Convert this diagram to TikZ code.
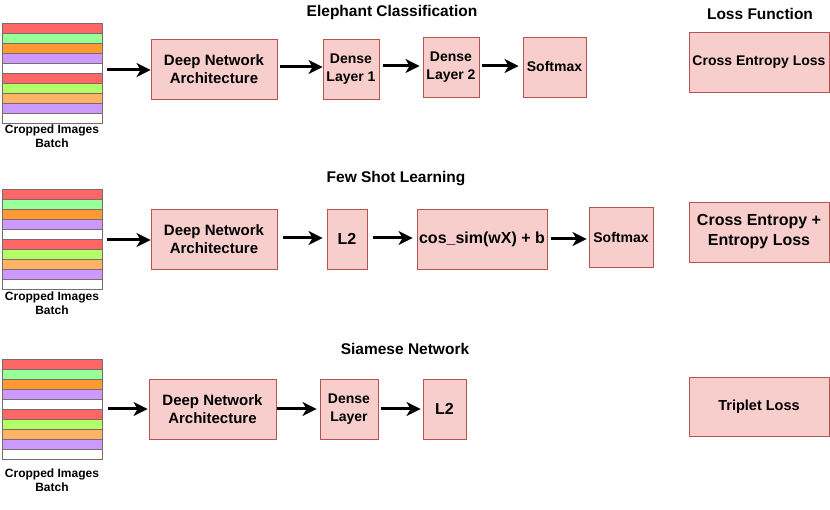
\documentclass[tikz,border=0pt]{standalone}
\usepackage{fontspec}
\setmainfont{Liberation Sans}
\usetikzlibrary{arrows.meta,positioning}
\definecolor{boxfill}{HTML}{F8CECC}
\definecolor{boxdraw}{HTML}{B85450}
\definecolor{sred}{HTML}{FF6666}
\definecolor{sgreen}{HTML}{99FF99}
\definecolor{sorange}{HTML}{FF9933}
\definecolor{spurple}{HTML}{CC99FF}
\definecolor{slime}{HTML}{B3FF66}
\definecolor{slorange}{HTML}{FFB366}
\definecolor{sedge}{HTML}{7A6A6A}
\tikzset{
  blk/.style={draw=boxdraw, fill=boxfill, line width=0.9pt, inner sep=0pt, align=center,
    font=\bfseries\fontsize{14}{18}\selectfont},
  ttl/.style={font=\bfseries\fontsize{15.5}{17}\selectfont, inner sep=0pt},
  captxt/.style={font=\bfseries\fontsize{12}{14}\selectfont, align=center, inner sep=0pt},
  arr/.style={line width=3pt, -{Stealth[length=14pt,width=14pt,inset=4pt]}},
  strip/.style={draw=sedge, line width=0.8pt},
  stackbox/.style={minimum width=100pt, minimum height=100pt, inner sep=0pt, anchor=north west}
}
\newcommand{\imgstack}[2]{%
  \fill[sred]    (2,#2)          rectangle (102,#2+10);
  \fill[sgreen]  (2,#2+10)       rectangle (102,#2+20);
  \fill[sorange] (2,#2+20)       rectangle (102,#2+30);
  \fill[spurple] (2,#2+30)       rectangle (102,#2+40);
  \fill[white]   (2,#2+40)       rectangle (102,#2+50);
  \fill[sred]    (2,#2+50)       rectangle (102,#2+60);
  \fill[slime]   (2,#2+60)       rectangle (102,#2+70);
  \fill[slorange](2,#2+70)       rectangle (102,#2+80);
  \fill[spurple] (2,#2+80)       rectangle (102,#2+90);
  \fill[white]   (2,#2+90)       rectangle (102,#2+100);
  \foreach \k in {0,10,...,90}{\draw[strip] (2,#2+\k) rectangle (102,#2+\k+10);}
  \node[stackbox] (#1) at (2,#2) {};
}
\begin{document}
\begin{tikzpicture}[x=1pt,y=-1pt]
\useasboundingbox (0,0) rectangle (830,510);

% ---------- titles
\node[ttl] (t1) at (392,12.5) {Elephant Classification};
\node[ttl] (tl) at (760,13.5) {Loss Function};
\node[ttl] (t2) at (396,178.5) {Few Shot Learning};
\node[ttl] (t3) at (405,348.5) {Siamese Network};

% ---------- image stacks
\imgstack{img1}{23}
\imgstack{img2}{189}
\imgstack{img3}{359}
\node[captxt] (c1) at (52,136) {Cropped Images\\Batch};
\node[captxt] (c2) at (52,303) {Cropped Images\\Batch};
\node[captxt] (c3) at (52,480) {Cropped Images\\Batch};

% ---------- row 1
\node[blk, minimum width=126pt, minimum height=60pt, font=\bfseries\fontsize{15}{18}\selectfont] (dna1) at (214,69) {Deep Network\\Architecture};
\node[blk, minimum width=56pt, minimum height=60pt] (d1) at (351,69) {Dense\\Layer 1};
\node[blk, minimum width=56pt, minimum height=60pt] (d2) at (451,67) {Dense\\Layer 2};
\node[blk, minimum width=63pt, minimum height=60pt] (sm1) at (554.5,67) {Softmax};
\node[blk, minimum width=140pt, minimum height=60pt] (loss1) at (759,62) {Cross Entropy Loss};

\draw[arr, shorten <=5pt] (img1.east |- 0,70) -- (dna1.west |- 0,70);
\draw[arr, shorten <=3pt] (dna1.east |- 0,67) -- (d1.west |- 0,67);
\draw[arr, shorten <=4pt, shorten >=3pt] (d1.east |- 0,66) -- (d2.west |- 0,66);
\draw[arr, shorten <=3pt, shorten >=4pt] (d2.east |- 0,66) -- (sm1.west |- 0,66);

% ---------- row 2
\node[blk, minimum width=126pt, minimum height=60pt, font=\bfseries\fontsize{15}{18}\selectfont] (dna2) at (214,239) {Deep Network\\Architecture};
\node[blk, minimum width=40pt, minimum height=60pt, font=\bfseries\fontsize{16}{18}\selectfont] (l2a) at (347,239) {L2};
\node[blk, minimum width=130pt, minimum height=60pt, font=\bfseries\fontsize{16}{18}\selectfont] (cos) at (482,239) {cos\_sim(wX) + b};
\node[blk, minimum width=64pt, minimum height=60pt] (sm2) at (621,237) {Softmax};
\node[blk, minimum width=140pt, minimum height=60pt, font=\bfseries\fontsize{16}{20}\selectfont] (loss2) at (759,232) {Cross Entropy +\\Entropy Loss};

\draw[arr, shorten <=5pt] (img2.east |- 0,240) -- (dna2.west |- 0,240);
\draw[arr, shorten <=6pt, shorten >=4pt] (dna2.east |- 0,238) -- (l2a.west |- 0,238);
\draw[arr, shorten <=6pt, shorten >=4pt] (l2a.east |- 0,238) -- (cos.west |- 0,238);
\draw[arr, shorten <=4pt, shorten >=2pt] (cos.east |- 0,239) -- (sm2.west |- 0,239);

% ---------- row 3
\node[blk, minimum width=127pt, minimum height=60pt, font=\bfseries\fontsize{15}{18}\selectfont] (dna3) at (212.5,409) {Deep Network\\Architecture};
\node[blk, minimum width=58pt, minimum height=60pt] (dl) at (349,409) {Dense\\Layer};
\node[blk, minimum width=43pt, minimum height=60pt, font=\bfseries\fontsize{16}{18}\selectfont] (l2b) at (444.5,409) {L2};
\node[blk, minimum width=140pt, minimum height=59pt, font=\bfseries\fontsize{14.5}{16}\selectfont] (loss3) at (759,406.5) {Triplet Loss};

\draw[arr, shorten <=6pt, shorten >=1pt] (img3.east |- dna3) -- (dna3.west);
\draw[arr, shorten <=1pt, shorten >=3pt] (dna3.east) -- (dl.west);
\draw[arr, shorten <=3pt, shorten >=2pt] (dl.east) -- (l2b.west);
\end{tikzpicture}
\end{document}
